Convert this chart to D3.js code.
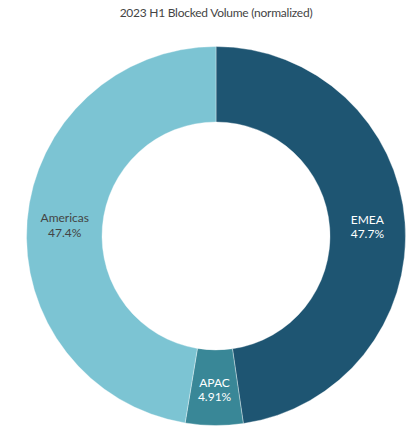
<!DOCTYPE html>
<html>
<head>
<meta charset="utf-8">
<script src="https://cdn.jsdelivr.net/npm/d3@7"></script>
<style>
  body { margin: 0; background: #fff; }
  svg { display: block; font-family: "Source Sans Pro", Lato, "Noto Sans", sans-serif; }
</style>
</head>
<body>
<div id="chart"></div>
<script>
// Chart data
const regions = ["EMEA", "APAC", "Americas"];
const shares = [47.7, 4.91, 47.4];
const shareLabels = ["47.7%", "4.91%", "47.4%"];
const colors = ["#1e5572", "#398797", "#7cc4d3"];
const textColors = ["#ffffff", "#ffffff", "#444444"];

const width = 412, height = 430;
const cx = 216, cy = 236;
const outerR = 189.5, innerR = 114;

const svg = d3.select("#chart").append("svg")
    .attr("width", width)
    .attr("height", height);

svg.append("text")
    .attr("x", 216)
    .attr("y", 17)
    .attr("text-anchor", "middle")
    .attr("font-size", 12)
    .attr("letter-spacing", -0.25)
    .attr("fill", "#444")
    .text("2023 H1 Blocked Volume (normalized)");

const data = regions.map((r, i) => ({ region: r, value: shares[i], label: shareLabels[i], i }));

const pie = d3.pie().value(d => d.value).sort(null);
const arc = d3.arc().innerRadius(innerR).outerRadius(outerR);

const g = svg.append("g").attr("transform", `translate(${cx},${cy})`);

const slices = g.selectAll("g.slice")
    .data(pie(data))
    .enter()
    .append("g")
    .attr("class", "slice");

slices.append("path")
    .attr("d", arc)
    .attr("fill", d => colors[d.data.i])
    .attr("stroke", "#ffffff")
    .attr("stroke-opacity", 0.5)
    .attr("stroke-width", 0.7);

// Two-line labels at the arc centroid
const labels = slices.append("text")
    .attr("transform", d => `translate(${arc.centroid(d)})`)
    .attr("text-anchor", "middle")
    .attr("font-size", 12)
    .attr("fill", d => textColors[d.data.i]);

labels.append("tspan")
    .attr("x", 0)
    .attr("dy", "-0.1em")
    .text(d => d.data.region);

labels.append("tspan")
    .attr("x", 0)
    .attr("dy", "1.2em")
    .text(d => d.data.label);
</script>
</body>
</html>
